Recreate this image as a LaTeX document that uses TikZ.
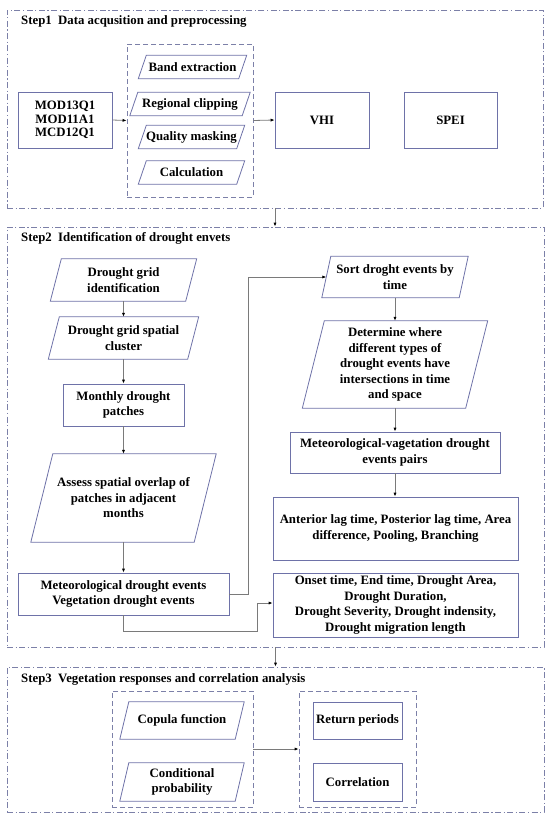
\documentclass[tikz,border=0pt]{standalone}
\usepackage{fontspec}
\setmainfont{Liberation Serif}
\usetikzlibrary{arrows.meta}
\definecolor{boxc}{HTML}{6E72A8}
\definecolor{framec}{HTML}{7C80A8}
\definecolor{linec}{HTML}{7A7A7A}
\tikzset{
  txt/.style={font=\fontsize{12.8}{15.5}\selectfont\bfseries, align=center, inner sep=0pt, text=black},
  rbox/.style={txt, draw=boxc, line width=0.8pt},
  pbox/.style={txt},
  boxline/.style={draw=boxc, line width=0.8pt},
  frame/.style={draw=framec, line width=0.8pt, dash pattern=on 6pt off 2.5pt on 1.2pt off 2.5pt, inner sep=0pt},
  ibox/.style={draw=framec, line width=0.8pt, dash pattern=on 5pt off 3pt, inner sep=0pt},
  arr/.style={draw=linec, line width=0.8pt, -{Latex[length=4pt,width=3.2pt,color=black]}},
  conn/.style={draw=linec, line width=0.8pt},
  ttl/.style={font=\fontsize{12.8}{15.5}\selectfont\bfseries, anchor=west, inner sep=0pt}
}
\newcommand{\drawpara}[2]{\draw[boxline] ([xshift=-#2pt]#1.south west) -- ([xshift=#2pt]#1.north west) -- ([xshift=#2pt]#1.north east) -- ([xshift=-#2pt]#1.south east) -- cycle;}
\begin{document}
\begin{tikzpicture}[x=1pt,y=-1pt]
\useasboundingbox (0,0) rectangle (550,819);
% ---------- Step 1 ----------
\node[frame, minimum width=536pt, minimum height=198pt] (f1) at (275,109) {};
\node[ttl] (t1) at (21,21) {Step1\ \ Data acqusition and preprocessing};
\node[rbox, font=\fontsize{12.8}{13.4}\selectfont\bfseries, minimum width=94pt, minimum height=56pt] (mod) at (65,120) {MOD13Q1\\MOD11A1\\MCD12Q1};
\node[ibox, minimum width=126pt, minimum height=153pt] (i1) at (190,120.5) {};
\node[pbox, minimum width=100pt, minimum height=23pt] (band) at (192.5,67) {Band extraction};
\node[pbox, minimum width=112pt, minimum height=23pt] (reg) at (190,104) {Regional clipping};
\node[pbox, minimum width=98pt, minimum height=23pt] (qual) at (191.5,137) {Quality masking};
\node[pbox, minimum width=98pt, minimum height=23pt] (calc) at (191.5,172.5) {Calculation};
\drawpara{band}{4}
\drawpara{reg}{4}
\drawpara{qual}{4}
\drawpara{calc}{4}
\node[rbox, minimum width=94pt, minimum height=56pt] (vhi) at (322,120) {VHI};
\node[rbox, minimum width=93pt, minimum height=56pt] (spei) at (450.5,120) {SPEI};
\draw[arr] (mod.east) -- (i1.west);
\draw[arr] (i1.east) -- (vhi.west);
% ---------- Step 2 ----------
\node[frame, minimum width=537pt, minimum height=420pt] (f2) at (275.5,437) {};
\node[ttl] (t2) at (21,238) {Step2\ \ Identification of drought envets};
\node[pbox, minimum width=135pt, minimum height=42pt] (dgi) at (123.5,280) {Drought grid\\identification};
\node[pbox, minimum width=139pt, minimum height=42pt] (dgs) at (123.5,338) {Drought grid spatial\\cluster};
\node[rbox, minimum width=121pt, minimum height=42pt] (mdp) at (123.5,405) {Monthly drought\\patches};
\node[pbox, minimum width=163pt, minimum height=88pt] (ass) at (123.5,498) {Assess spatial overlap of\\patches in adjacent\\months};
\node[rbox, minimum width=211pt, minimum height=42pt] (met) at (123.5,594) {Meteorological drought events\\Vegetation drought events};
\drawpara{dgi}{5.5}
\drawpara{dgs}{5.5}
\drawpara{ass}{11}
\node[pbox, minimum width=137pt, minimum height=41pt] (sort) at (395,277) {Sort droght events by\\time};
\node[pbox, minimum width=163pt, minimum height=87pt] (det) at (395,364.5) {Determine where\\different types of\\drought events have\\intersections in time\\and space};
\node[rbox, minimum width=210pt, minimum height=41pt] (mvp) at (395,452.5) {Meteorological-vagetation drought\\events pairs};
\node[rbox, minimum width=245pt, minimum height=63pt] (ant) at (395.5,528.5) {Anterior lag time, Posterior lag time, Area\\difference, Pooling, Branching};
\node[rbox, minimum width=245pt, minimum height=64pt] (ons) at (395.5,605) {Onset time, End time, Drought Area,\\Drought Duration,\\Drought Severity, Drought indensity,\\Drought migration length};
\drawpara{sort}{4.5}
\drawpara{det}{11}
\draw[arr] (dgi.south) -- (dgs.north);
\draw[arr] (dgs.south) -- (mdp.north);
\draw[arr] (mdp.south) -- (ass.north);
\draw[arr] (ass.south) -- (met.north);
\draw[arr] (sort.south) -- (det.north);
\draw[arr] (det.south) -- (mvp.north);
\draw[arr] (mvp.south) -- (mvp.south |- ant.north);
\coordinate (j1) at (248,0);
\coordinate (j2) at (0,631);
\coordinate (j3) at (257,603);
\draw[arr] (met.east) -- (met.east -| j1) -- (j1 |- sort.west) -- (sort.west);
\draw[arr] (met.south) -- (met.south |- j2) -- (j3 |- j2) -- (j3) -- (j3 -| ons.west);
\draw[arr] (f1.south) -- (f1.south |- f2.north);
% ---------- Step 3 ----------
\node[frame, minimum width=537pt, minimum height=145pt] (f3) at (275.5,739.5) {};
\node[ttl] (t3) at (21,679) {Step3\ \ Vegetation responses and correlation analysis};
\node[ibox, minimum width=141pt, minimum height=116pt] (i3a) at (182.5,749) {};
\node[pbox, minimum width=115pt, minimum height=37pt] (cop) at (182,720.5) {Copula function};
\node[pbox, minimum width=115pt, minimum height=38pt] (cond) at (182,782) {Conditional\\probability};
\drawpara{cop}{4.5}
\drawpara{cond}{4.5}
\node[ibox, minimum width=117pt, minimum height=116pt] (i3b) at (357.5,749) {};
\node[rbox, minimum width=89pt, minimum height=37pt] (ret) at (357.5,720.5) {Return periods};
\node[rbox, minimum width=89pt, minimum height=38pt] (corr) at (357.5,782) {Correlation};
\draw[arr] (i3a.east) -- (i3b.west);
\draw[arr] (f2.south) -- (f2.south |- f3.north);
\end{tikzpicture}
\end{document}
